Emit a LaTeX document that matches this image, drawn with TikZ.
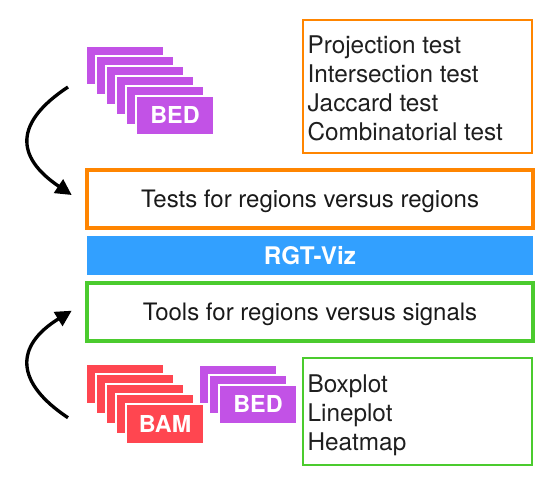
\documentclass[tikz,border=0pt]{standalone}
\usepackage{fontspec}
\setmainfont{TeX Gyre Heros}
\usetikzlibrary{arrows.meta}
\definecolor{bedc}{RGB}{194,82,230}
\definecolor{bamc}{RGB}{255,70,80}
\definecolor{orangec}{RGB}{255,133,0}
\definecolor{greenc}{RGB}{75,203,46}
\definecolor{bluec}{RGB}{50,160,255}
\tikzset{
 x=0.75pt,y=-0.75pt,
 sheet/.style={draw=white,line width=1.5pt,outer sep=0pt,minimum width=58.5pt,minimum height=29pt,inner sep=0pt,anchor=north west},
 bedsheet/.style={sheet,fill=bedc},
 bamsheet/.style={sheet,fill=bamc,minimum height=30pt},
 sheetlabel/.style={text=white,font=\fontsize{17.5}{18}\selectfont\bfseries},
 wide/.style={line width=2.6pt,outer sep=0pt,inner sep=0pt,minimum width=334.5pt,minimum height=43.5pt,text depth=-0.7pt,anchor=north west,font=\fontsize{18}{20}\selectfont,text=black!90},
 listbox/.style={line width=1.3pt,outer sep=0pt,inner sep=0pt,anchor=north west,minimum width=171.75pt},
 listtext/.style={anchor=base west,inner sep=0pt,font=\fontsize{18.25}{20}\selectfont,text=black!88},
 curved arrow/.style={line width=2.5pt,-{Triangle[length=12pt,width=12pt]}},
}
\begin{document}
\begin{tikzpicture}
\useasboundingbox (0,0) rectangle (559,486);
\node[bedsheet] (a0) at (86,46) {};
\node[bedsheet] (a1) at (96,56) {};
\node[bedsheet] (a2) at (106,66) {};
\node[bedsheet] (a3) at (116,76) {};
\node[bedsheet] (a4) at (126,86) {};
\node[bedsheet,sheetlabel] (a5) at (136,96) {BED};
\node[bamsheet] (b0) at (86,364) {};
\node[bamsheet] (b1) at (96,374) {};
\node[bamsheet] (b2) at (106,384) {};
\node[bamsheet] (b3) at (116,394) {};
\node[bamsheet,sheetlabel] (b4) at (126,404) {BAM};
\node[bedsheet] (c0) at (199,365) {};
\node[bedsheet] (c1) at (209,375) {};
\node[bedsheet,sheetlabel] (c2) at (219,385) {BED};
\node[listbox,draw=orangec,minimum height=99.75pt] (t1) at (303,20.2) {};
\node[listtext] (t1a) at (307.3,53) {Projection test};
\node[listtext] (t1b) at (307.3,82) {Intersection test};
\node[listtext] (t1c) at (307.3,111) {Jaccard test};
\node[listtext] (t1d) at (307.3,140.3) {Combinatorial test};
\node[listbox,draw=greenc,minimum height=80.25pt] (t2) at (303,358) {};
\node[listtext] (t2a) at (307.3,392) {Boxplot};
\node[listtext] (t2b) at (307.3,421) {Lineplot};
\node[listtext] (t2c) at (307.3,450) {Heatmap};
\node[wide,draw=orangec] (w1) at (87,170) {Tests for regions versus regions};
\node[wide,fill=bluec,text=white,font=\fontsize{18.2}{20}\selectfont\bfseries,text depth=0pt,minimum height=29.25pt,line width=0pt] (w2) at (87,236) {RGT-Viz};
\node[wide,draw=greenc] (w3) at (87,283) {Tools for regions versus signals};
\coordinate (s1) at (68,87);
\coordinate (e1) at (71.7,195);
\coordinate (s2) at (68,417.7);
\coordinate (e2) at (71.7,310.7);
\draw[curved arrow] (s1) .. controls (15,122) and (14.4,156.4) .. (e1);
\draw[curved arrow] (s2) .. controls (15,382.5) and (14.4,346) .. (e2);
\end{tikzpicture}
\end{document}
